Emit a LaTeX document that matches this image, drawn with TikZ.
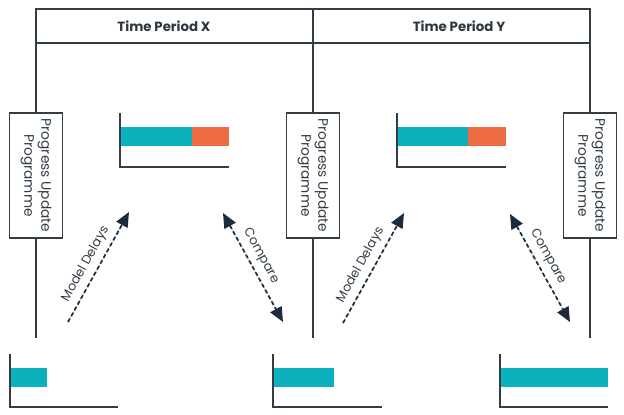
\documentclass[tikz,border=0pt]{standalone}
\usepackage{fontspec}
\setmainfont{Poppins}
\usepackage{tikz}
\usetikzlibrary{arrows.meta}

\definecolor{ink}{HTML}{323D47}
\definecolor{tipink}{HTML}{1D2C3B}
\definecolor{teal}{HTML}{0CB1BE}
\definecolor{orng}{HTML}{EE6C41}

\begin{document}
\begin{tikzpicture}[x=0.75pt,y=0.75pt,yscale=-1,xscale=1,
    headcell/.style={draw=ink,line width=1.2pt,minimum width=207.75pt,minimum height=25.5pt,inner sep=0pt,outer sep=0pt},
    headtext/.style={font=\bfseries\fontsize{10}{12}\selectfont,text=ink!90!black},
    pupbox/.style={draw=ink,line width=1.2pt,fill=white,rotate=-90,align=center,minimum width=93.75pt,minimum height=39.75pt,inner sep=0pt,outer sep=0pt,font=\fontsize{10.3}{12.75}\selectfont,text=ink},
    link/.style={draw=ink,line width=1.2pt},
    axisline/.style={draw=ink,line width=1.2pt},
    dashlink/.style={draw=tipink,line width=1.3pt,dash pattern=on 3pt off 2pt,fill=tipink},
    lbl/.style={font=\fontsize{9.5}{11}\selectfont,text=ink,inner sep=4pt,fill=none}]
        \useasboundingbox (0,0) rectangle (624,414);

        %Header cells
        \node (hx) [headcell] at (174.5,26) {};
        \node (hy) [headcell] at (451.5,26) {};
        \node (tx) [headtext] at (164,26.5) {Time Period X};
        \node (ty) [headtext] at (459,26.5) {Time Period Y};

        %Progress boxes
        \node (pup1) [pupbox] at (36,175.5) {Progress Update\\Programme};
        \node (pup2) [pupbox] at (313,175.5) {Progress Update\\Programme};
        \node (pup3) [pupbox] at (590,175.5) {Progress Update\\Programme};

        %Vertical lines
        \coordinate (end1) at (36,338);
        \coordinate (end2) at (313,338);
        \coordinate (end3) at (590,338);
        \draw [link] (hx.south west) -- (pup1.west);
        \draw [link] (hx.south east) -- (pup2.west);
        \draw [link] (hy.south east) -- (pup3.west);
        \draw [link] (pup1.east) -- (end1);
        \draw [link] (pup2.east) -- (end2);
        \draw [link] (pup3.east) -- (end3);

        %Chart: upper X
        \fill [teal] (120,127) rectangle (192,146);
        \fill [orng] (192,127) rectangle (229,146);
        \draw [axisline] (120,113) |- (229,167);

        %Chart: upper Y
        \fill [teal] (397,127) rectangle (468,146);
        \fill [orng] (468,127) rectangle (506,146);
        \draw [axisline] (397,113) |- (506,167);

        %Chart: lower left
        \fill [teal] (10,368) rectangle (47,387);
        \draw [axisline] (10,354) |- (118,407);

        %Chart: lower middle
        \fill [teal] (273,368) rectangle (334,387);
        \draw [axisline] (273,354) |- (382,407);

        %Chart: lower right
        \fill [teal] (500,368) rectangle (608,387);
        \draw [axisline] (500,354) |- (608,407);

        %Dashed arrows
        \coordinate (md1a) at (68,322);
        \coordinate (md1b) at (129,212);
        \coordinate (cp1a) at (223,213);
        \coordinate (cp1b) at (283,322);
        \coordinate (md2a) at (343,323);
        \coordinate (md2b) at (404,213);
        \coordinate (cp2a) at (510,214);
        \coordinate (cp2b) at (570,322);
        \draw [dashlink,-{Triangle[length=11pt,width=9.5pt]}] (md1a) -- node[pos=0.47,rotate=61,anchor=south,lbl] {Model Delays} (md1b);
        \draw [dashlink,{Triangle[length=11pt,width=9.5pt]}-{Triangle[length=11pt,width=9.5pt]}] (cp1a) -- node[pos=0.45,rotate=-61,anchor=south,lbl] {Compare} (cp1b);
        \draw [dashlink,-{Triangle[length=11pt,width=9.5pt]}] (md2a) -- node[pos=0.47,rotate=61,anchor=south,lbl] {Model Delays} (md2b);
        \draw [dashlink,{Triangle[length=11pt,width=9.5pt]}-{Triangle[length=11pt,width=9.5pt]}] (cp2a) -- node[pos=0.45,rotate=-61,anchor=south,lbl] {Compare} (cp2b);
    \end{tikzpicture}
\end{document}
